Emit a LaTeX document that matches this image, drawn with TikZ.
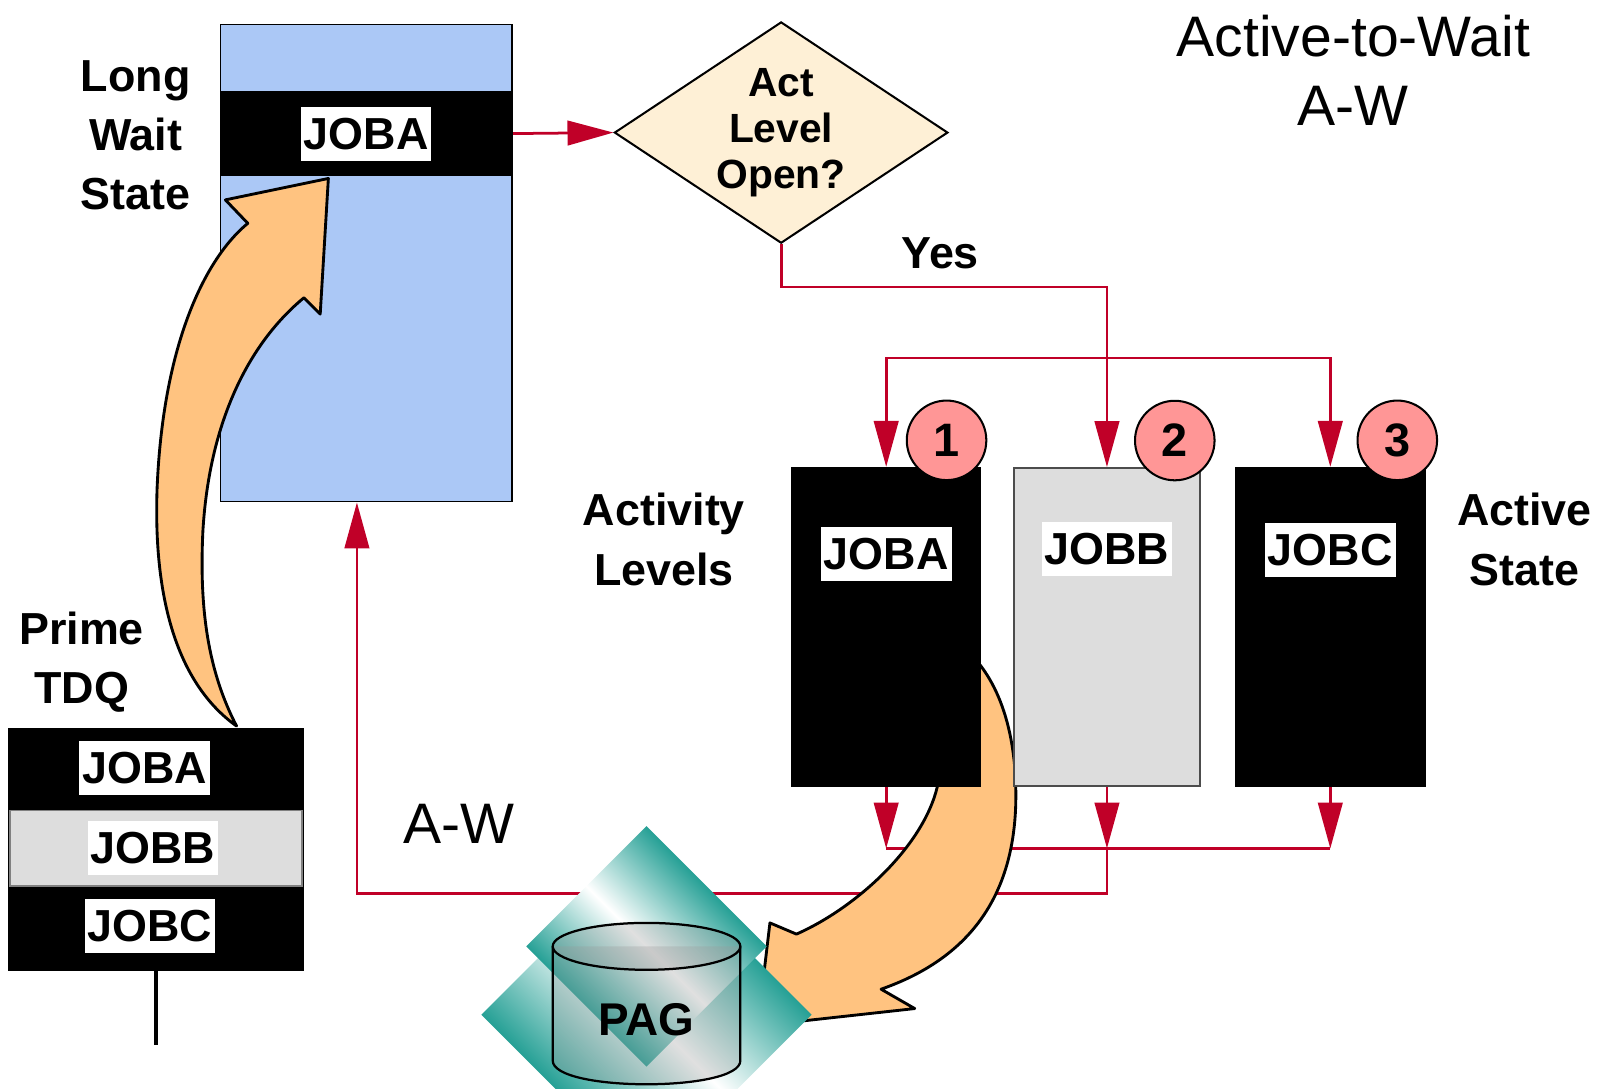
\documentclass[tikz,border=0pt]{standalone}
\usepackage{fontspec}
\setmainfont{Liberation Sans}
\usetikzlibrary{positioning,arrows.meta,shapes.geometric,calc,backgrounds}

\definecolor{waitblue}{RGB}{171,200,246}
\definecolor{askcream}{RGB}{254,240,214}
\definecolor{jobgray}{RGB}{221,221,221}
\definecolor{flowred}{RGB}{192,0,40}
\definecolor{pushorange}{RGB}{255,195,128}
\definecolor{numpink}{RGB}{255,150,150}
\definecolor{pagteal}{RGB}{10,148,136}

% teal with a soft white streak through the middle
\pgfdeclareverticalshading{pagstreak}{100bp}{color(0bp)=(pagteal); color(30bp)=(pagteal);
  color(50bp)=(white); color(70bp)=(pagteal); color(100bp)=(pagteal)}

\begin{document}
\begin{tikzpicture}[
  x=1pt, y=-1pt,
  box/.style={inner sep=0, minimum width=186, minimum height=314},
  tag/.style={fill=white, inner xsep=3, inner ysep=0, minimum height=53,
              font=\fontsize{44}{50}\selectfont\bfseries},
  note/.style={align=center, font=\fontsize{44}{58}\selectfont\bfseries},
  num/.style={circle, draw, line width=2, fill=numpink, minimum size=78, inner sep=0,
              font=\fontsize{46}{50}\selectfont\bfseries},
  arrow/.style={draw=flowred, line width=2.7, -{Triangle[length=45pt, width=24pt]}},
  wire/.style={draw=flowred, line width=2.7},
  push/.style={fill=pushorange, draw, line width=2.8, line join=round},
  tile/.style={diamond, aspect=1, inner sep=0, shade, shading=pagstreak, shading angle=-45}
]
  \useasboundingbox (0,0) rectangle (1568,1067);

  % Long wait state
  \node[draw, line width=1.5, fill=waitblue, minimum width=286, minimum height=468, inner sep=0] (wait) at (359,258) {};
  \node[fill=black, minimum width=286, minimum height=84, inner sep=0] (waitband) at (359,131) {};
  \node[tag] (waitjob) at (waitband) {JOBA};
  \node[note] (waitnote) at (133,133) {Long\\Wait\\State};

  % Decision
  \node[diamond, draw, line width=2, fill=askcream, aspect=1.5, inner sep=0,
        minimum width=327, minimum height=217, align=center,
        font=\fontsize{40}{45}\selectfont\bfseries] (decide) at (766,130) {Act\\Level\\Open?};
  \node[note] (yes) at (922,248) {Yes};

  % Activity levels
  \node[box, fill=black] (lvl1) at (869,615) {};
  \node[box, fill=jobgray, draw=black!70, line width=2, minimum width=183, minimum height=312] (lvl2) at (1085.5,615) {};
  \node[box, fill=black, minimum width=187] (lvl3) at (1304.5,615) {};
  \node[tag] (lvl1job) at ([yshift=72]lvl1.center) {JOBA};
  \node[tag] (lvl2job) at ([yshift=77]lvl2.center) {JOBB};
  \node[tag] (lvl3job) at ([yshift=76]lvl3.center) {JOBC};
  \node[num] (lvl1num) at ([xshift=-34,yshift=26]lvl1.north east) {1};
  \node[num] (lvl2num) at ([xshift=-26,yshift=26]lvl2.north east) {2};
  \node[num] (lvl3num) at ([xshift=-28,yshift=26]lvl3.north east) {3};
  \node[note] (lvlnote) at (651,529) {Activity\\Levels};
  \node[note] (actnote) at (1495,529) {Active\\State};

  % Prime TDQ
  \node[fill=black, minimum width=290, minimum height=238, inner sep=0] (tdq) at (153,833) {};
  \node[fill=jobgray, draw=black!50, line width=1.5, minimum width=286, minimum height=74, inner sep=0] (tdqmid) at (153,832) {};
  \node[tag] (tdqa) at (142,753) {JOBA};
  \node[tag] (tdqb) at (150,832) {JOBB};
  \node[tag] (tdqc) at (147,908) {JOBC};
  \node[note] (tdqnote) at (80,649) {Prime\\TDQ};
  \draw[line width=3] (tdq.south) -- ++(0,73);

  % Titles
  \node[align=center, font=\fontsize{56}{68}\selectfont] (title) at (1327,69) {Active-to-Wait\\A-W};
  \node[font=\fontsize{56}{68}\selectfont] (aw) at (450,808) {A-W};

  % red flow, under everything
  \coordinate (forky) at (0,351);
  \coordinate (joiny) at (0,832);
  \begin{pgfonlayer}{background}
    \draw[arrow] (waitband.east) -- (decide.west);
    \draw[arrow] (decide.south) -- ++(0,42) -| (lvl2.north);
    \coordinate (fork) at (lvl2.north |- forky);
    \draw[arrow] (fork) -| (lvl1.north);
    \draw[arrow] (fork) -| (lvl3.north);
    \draw[arrow] (lvl1.south) -- (lvl1.south |- joiny);
    \draw[arrow] (lvl2.south) -- (lvl2.south |- joiny);
    \draw[arrow] (lvl3.south) -- (lvl3.south |- joiny);
    \draw[wire] (lvl1.south |- joiny) -- (lvl3.south |- joiny);
    \draw[arrow] (lvl2.south |- joiny) -- ++(0,44) -| ([xshift=-9]wait.south);
    % swap out to paging
    \draw[push] (945,635) .. controls (980,665) and (998,720) .. (996,790)
      .. controls (993,880) and (950,940) .. (864,970) -- (897,989) -- (743,1006)
      -- (755,905) -- (781,916) .. controls (840,890) and (905,830) .. (919,772)
      .. controls (925,740) and (925,700) .. (915,650) -- cycle;
  \end{pgfonlayer}

  % promote from queue
  \draw[push] (232,712) .. controls (180,675) and (150,600) .. (154,480)
    .. controls (160,330) and (205,250) .. (243,219) -- (221,196) -- (322,175)
    -- (314,308) -- (298,292) .. controls (240,340) and (205,420) .. (199,520)
    .. controls (195,600) and (205,660) .. (232,712) -- cycle;

  % PAG
  \node[tile, minimum size=324] (pagback) at (634,995) {};
  \node[tile, minimum size=236] (pagfront) at (634,928) {};
  \draw[line width=2.2, fill=black!40, fill opacity=.3] (542,928) -- (542,1040)
    .. controls (542,1071) and (726,1071) .. (726,1040) -- (726,928);
  \draw[line width=2.2, fill=black!40, fill opacity=.3] (634,928) ellipse [x radius=92, y radius=23];
  \node[font=\fontsize{45}{50}\selectfont\bfseries] (pag) at (634,1000) {PAG};
\end{tikzpicture}
\end{document}
